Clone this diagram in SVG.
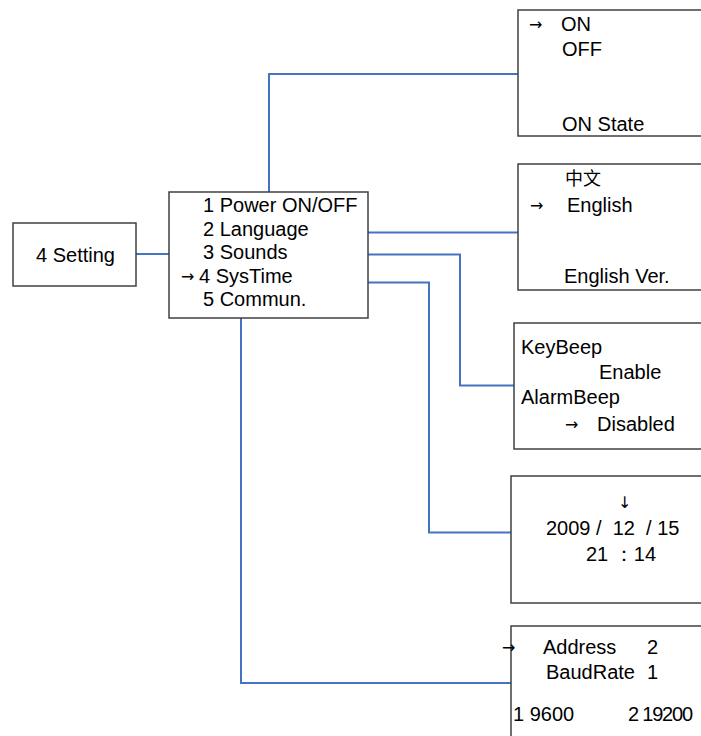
<svg xmlns="http://www.w3.org/2000/svg" width="701" height="736" viewBox="0 0 701 736">
<style>
.box{fill:#fff;stroke:#404040;stroke-width:1.5}
text{font-family:"Liberation Sans",Arial,sans-serif;font-size:20px;fill:#000}
.cjk{font-family:"Noto Sans CJK SC","Liberation Serif",serif;font-size:18px}
.ar{font-family:"DejaVu Sans",sans-serif;font-size:16px;fill:#000}
.conn{fill:none;stroke:#4472C4;stroke-width:2}
</style>
<rect width="701" height="736" fill="#fff"/>
<g id="connectors">
<path class="conn" d="M136,254 H169"/>
<path class="conn" d="M269,192 V74 H518"/>
<path class="conn" d="M368,232.5 H518"/>
<path class="conn" d="M368,254.5 H460 V385.5 H514"/>
<path class="conn" d="M368,282.5 H429 V532.5 H511"/>
<path class="conn" d="M241,318 V683 H511"/>
</g>
<g id="setting">
<rect class="box" x="13" y="223" width="123" height="63"/>
<text x="36" y="262">4 Setting</text>
</g>
<g id="menu">
<rect class="box" x="169" y="192" width="199" height="126"/>
<text x="203" y="212">1 Power ON/OFF</text>
<text x="203" y="236">2 Language</text>
<text x="203" y="259">3 Sounds</text>
<text class="ar" x="181" y="282" font-size="18">→</text>
<text x="199" y="283">4 SysTime</text>
<text x="203" y="306">5 Commun.</text>
</g>
<g id="power">
<rect class="box" x="518" y="10" width="190" height="126"/>
<text class="ar" x="529" y="30">→</text>
<text x="561" y="31">ON</text>
<text x="562" y="56">OFF</text>
<text x="562" y="131">ON State</text>
</g>
<g id="language">
<rect class="box" x="518" y="164" width="190" height="126"/>
<text class="cjk" x="565" y="185">中文</text>
<text class="ar" x="530" y="211">→</text>
<text x="567" y="212">English</text>
<text x="564" y="283">English Ver.</text>
</g>
<g id="sounds">
<rect class="box" x="514" y="323" width="190" height="126"/>
<text x="521" y="354">KeyBeep</text>
<text x="599" y="379">Enable</text>
<text x="521" y="404">AlarmBeep</text>
<text class="ar" x="565" y="430">→</text>
<text x="597" y="431">Disabled</text>
</g>
<g id="systime">
<rect class="box" x="511" y="476" width="195" height="127"/>
<text class="ar" x="618" y="508">↓</text>
<text x="546" y="535" xml:space="preserve">2009 /  12  / 15</text>
<text x="586" y="561" xml:space="preserve">21 ：14</text>
</g>
<g id="commun">
<rect class="box" x="511" y="626" width="195" height="120"/>
<text class="ar" x="502" y="653">→</text>
<text x="543" y="654">Address</text>
<text x="647" y="654">2</text>
<text x="546" y="679">BaudRate</text>
<text x="647" y="679">1</text>
<text x="513" y="721">1 9600</text>
<text x="628" y="721" textLength="65" lengthAdjust="spacing">2 19200</text>
</g>
</svg>
